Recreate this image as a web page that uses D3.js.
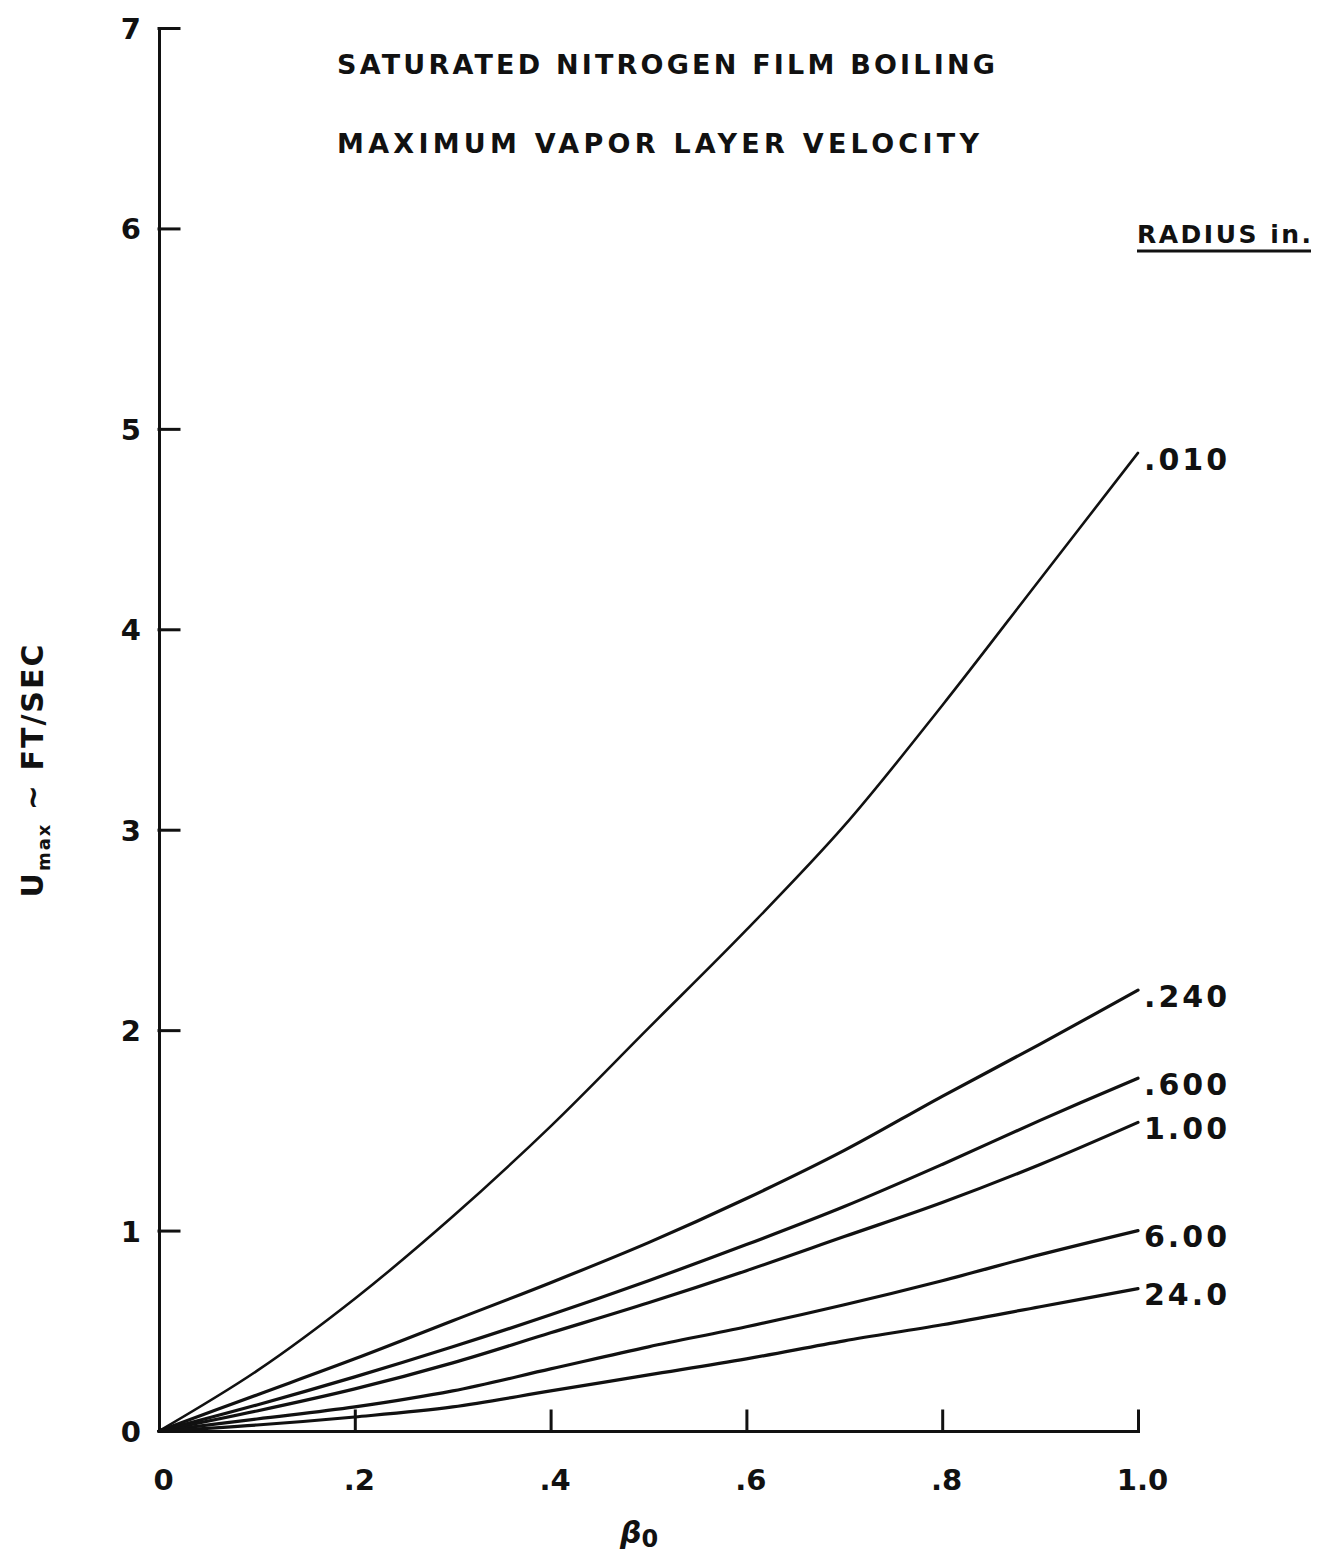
<!DOCTYPE html>
<html>
<head>
<meta charset="utf-8">
<script src="https://cdn.jsdelivr.net/npm/d3@7"></script>
<style>
    body { margin: 0; background: #fff; }
    svg { display: block; }
    text { font-family: "DejaVu Sans", sans-serif; fill: #111; }
</style>
</head>
<body>
<div class="graph"></div>
<script>
// beta_0 positions the curves were read at
const beta = [0, 0.1, 0.2, 0.3, 0.4, 0.5, 0.6, 0.7, 0.8, 0.9, 1.0];

// U max (ft/sec) for each radius
const radiusNames = [".010", ".240", ".600", "1.00", "6.00", "24.0"];
const u010 = [0, 0.30, 0.66, 1.07, 1.52, 2.01, 2.50, 3.02, 3.62, 4.25, 4.88];
const u240 = [0, 0.18, 0.36, 0.55, 0.74, 0.94, 1.16, 1.40, 1.67, 1.93, 2.20];
const u600 = [0, 0.13, 0.27, 0.42, 0.58, 0.75, 0.93, 1.12, 1.33, 1.55, 1.76];
const u100 = [0, 0.10, 0.21, 0.34, 0.49, 0.64, 0.80, 0.97, 1.14, 1.33, 1.54];
const u600b = [0, 0.06, 0.12, 0.20, 0.31, 0.42, 0.52, 0.63, 0.75, 0.88, 1.00];
const u240b = [0, 0.03, 0.07, 0.12, 0.20, 0.28, 0.36, 0.45, 0.53, 0.62, 0.71];
const seriesValues = [u010, u240, u600, u100, u600b, u240b];

const xTicks = [0, 0.2, 0.4, 0.6, 0.8, 1.0];
const xTickLabels = ["0", ".2", ".4", ".6", ".8", "1.0"];
const yTicks = [0, 1, 2, 3, 4, 5, 6, 7];

const w = 1331;
const h = 1552;

const svg = d3.select(".graph")
    .append("svg")
    .attr("width", w)
    .attr("height", h);

svg.append("rect")
    .attr("width", w)
    .attr("height", h)
    .attr("fill", "#fff");

const xScale = d3.scaleLinear()
    .domain([0, 1])
    .range([159, 1138]);

const yScale = d3.scaleLinear()
    .domain([0, 7])
    .range([1431, 28]);

// axes, ticks point inwards
const xAxis = d3.axisBottom(xScale)
    .tickValues(xTicks)
    .tickFormat((d, i) => xTickLabels[i])
    .tickSizeInner(-20)
    .tickSizeOuter(0);

const yAxis = d3.axisLeft(yScale)
    .tickValues(yTicks)
    .tickFormat(d3.format("d"))
    .tickSizeInner(-20)
    .tickSizeOuter(0);

const xAxisGroup = svg.append("g")
    .attr("transform", `translate(0,${yScale(0)})`)
    .call(xAxis);

xAxisGroup.selectAll("text")
    .attr("y", 49)
    .attr("dy", "0.36em")
    .attr("dx", 4)
    .style("font-size", "29px")
    .style("font-weight", "bold");

const yAxisGroup = svg.append("g")
    .attr("transform", `translate(${xScale(0)},0)`)
    .call(yAxis);

yAxisGroup.selectAll("text")
    .attr("x", -18)
    .attr("dy", "0.36em")
    .style("font-size", "29px")
    .style("font-weight", "bold");

svg.selectAll(".domain, .tick line")
    .attr("stroke", "#111")
    .attr("stroke-width", 3)
    .attr("stroke-linecap", "square");

// curves
const line = d3.line()
    .x((d, i) => xScale(beta[i]))
    .y(d => yScale(d))
    .curve(d3.curveCatmullRom.alpha(0.5));

svg.append("g")
    .selectAll("path")
    .data(seriesValues)
    .enter()
    .append("path")
    .attr("fill", "none")
    .attr("stroke", "#111")
    .attr("stroke-width", (d, i) => i === 0 ? 2.6 : 3.2)
    .attr("stroke-linecap", "round")
    .attr("d", line);

// radius labels at the right end of each curve
svg.append("g")
    .selectAll("text")
    .data(radiusNames)
    .enter()
    .append("text")
    .attr("x", xScale(1) + 6)
    .attr("y", (d, i) => yScale(seriesValues[i][seriesValues[i].length - 1]) + 6)
    .attr("dy", "0.36em")
    .style("font-size", "30px")
    .style("font-weight", "bold")
    .style("letter-spacing", "3px")
    .text(d => d);

// titles
svg.append("text")
    .attr("x", 337)
    .attr("y", 74)
    .attr("textLength", 658)
    .attr("lengthAdjust", "spacing")
    .style("font-size", "27px")
    .style("font-weight", "bold")
    .text("SATURATED  NITROGEN  FILM  BOILING");

svg.append("text")
    .attr("x", 337)
    .attr("y", 153)
    .attr("textLength", 642)
    .attr("lengthAdjust", "spacing")
    .style("font-size", "27px")
    .style("font-weight", "bold")
    .text("MAXIMUM  VAPOR  LAYER  VELOCITY");

svg.append("text")
    .attr("x", 1137)
    .attr("y", 243)
    .attr("textLength", 174)
    .attr("lengthAdjust", "spacing")
    .style("font-size", "25px")
    .style("font-weight", "bold")
    .text("RADIUS  in.");

svg.append("line")
    .attr("x1", 1137)
    .attr("x2", 1311)
    .attr("y1", 251)
    .attr("y2", 251)
    .attr("stroke", "#111")
    .attr("stroke-width", 3);

// axis titles
const yLabel = svg.append("text")
    .attr("transform", `translate(43,770) rotate(-90)`)
    .attr("text-anchor", "middle")
    .style("font-size", "30px")
    .style("font-weight", "bold")
    .style("letter-spacing", "2px");

yLabel.append("tspan").text("U");
yLabel.append("tspan")
    .attr("dy", 7)
    .style("font-size", "18px")
    .text("max");
yLabel.append("tspan")
    .attr("dy", -7)
    .text(" ~ FT/SEC");

const xLabel = svg.append("text")
    .attr("x", 639)
    .attr("y", 1543)
    .attr("text-anchor", "middle")
    .style("font-size", "30px")
    .style("font-weight", "bold");

xLabel.append("tspan")
    .style("font-style", "italic")
    .text("β");
xLabel.append("tspan")
    .attr("dy", 4)
    .style("font-size", "24px")
    .text("0");
</script>
</body>
</html>
